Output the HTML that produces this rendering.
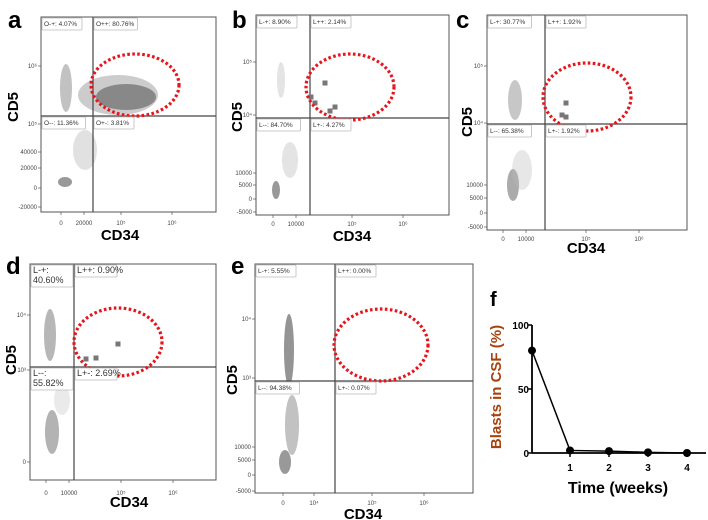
<!DOCTYPE html>
<html><head><meta charset="utf-8"><style>
html,body{margin:0;padding:0;background:#fff;}
svg{display:block;font-family:"Liberation Sans",sans-serif;}
.pl{font-weight:bold;font-size:24px;fill:#000;}
.ax{font-weight:bold;font-size:15px;fill:#000;}
.tk{font-size:6px;fill:#444;}
.gl{font-size:6.5px;fill:#333;}
</style></head><body>
<svg id="fig" width="708" height="520" viewBox="0 0 708 520">
<g id="panels"></g>
<g id="chartf"></g>
</svg>
<script>
// ---- Panel f data ----
const weeks = [0, 1, 2, 3, 4];
const blasts = [80, 2, 1.5, 0.5, 0];
const yTicks = [0, 50, 100];
const xTickLabels = ["1", "2", "3", "4"];
const xTickVals = [1, 2, 3, 4];

// ---- Flow panels (quadrant labels and marker points) ----
const panelIds = ["a","b","c","d","e"];
const quadLabels = {
  a:["O-+: 4.07%","O++: 80.76%","O--: 11.36%","O+-: 3.81%"],
  b:["L-+: 8.90%","L++: 2.14%","L--: 84.70%","L+-: 4.27%"],
  c:["L-+: 30.77%","L++: 1.92%","L--: 65.38%","L+-: 1.92%"],
  d:["L-+:|40.60%","L++: 0.90%","L--:|55.82%","L+-: 2.69%"],
  e:["L-+: 5.55%","L++: 0.00%","L--: 94.38%","L+-: 0.07%"]
};
const markerPts = {
  a:[],
  b:[[311,97],[315,103],[325,83],[330,111],[335,107]],
  c:[[566,103],[562,115],[566,117]],
  d:[[86,359],[96,358],[118,344]],
  e:[]
};

const NS="http://www.w3.org/2000/svg";
function mk(tag,attrs,parent){const e=document.createElementNS(NS,tag);for(const k in attrs)e.setAttribute(k,attrs[k]);parent.appendChild(e);return e;}
const panels=document.getElementById('panels');

const L = {
 a:{lab:[8,28],box:[41,17,216,212],v:93,h:116,cd5:[14,107],cd34:[120,240],ell:[135,85,44,31],
    yt:[["10⁶",66],["10⁵",124],["40000",152],["20000",168],["0",188],["-20000",207]],
    xt:[["0",61],["20000",84],["10⁵",121],["10⁶",172]],xty:222},
 b:{lab:[232,28],box:[256,15,449,215],v:310,h:118,cd5:[238,117],cd34:[352,241],ell:[350,87,44,33],
    yt:[["10⁵",62],["10⁴",115],["10000",173],["5000",185],["0",199],["-5000",212]],
    xt:[["0",273],["10000",296],["10⁵",352],["10⁶",403]],xty:223},
 c:{lab:[456,28],box:[487,15,687,230],v:545,h:124,cd5:[468,122],cd34:[586,253],ell:[587,97,44,34],
    yt:[["10⁵",66],["10⁴",123],["10000",185],["5000",198],["0",213],["-5000",227]],
    xt:[["0",503],["10000",526],["10⁵",586],["10⁶",639]],xty:238},
 d:{lab:[6,274],box:[30,264,216,480],v:74,h:367,cd5:[12,360],cd34:[129,507],ell:[118,342,44,34],
    yt:[["10⁴",315],["10³",370],["0",462]],
    xt:[["0",46],["10000",69],["10⁵",121],["10⁶",173]],xty:492},
 e:{lab:[231,274],box:[255,264,473,493],v:335,h:381,cd5:[233,380],cd34:[363,519],ell:[381,345,47,36],
    yt:[["10⁴",319],["10³",378],["10000",447],["5000",460],["0",475],["-5000",491]],
    xt:[["0",283],["10⁴",314],["10⁵",372],["10⁶",424]],xty:502}
};
const clouds = {
 a:[[126,97,30,13,"#777",1],[118,95,40,20,"#999",0.5],[66,88,6,24,"#999",0.6],[65,182,7,5,"#999",1],[85,150,12,20,"#aaa",0.35]],
 b:[[276,190,4,9,"#999",1],[290,160,8,18,"#bbb",0.4],[281,80,4,18,"#bbb",0.4]],
 c:[[515,100,7,20,"#999",0.55],[513,185,6,16,"#888",0.7],[522,170,10,20,"#bbb",0.35]],
 d:[[50,335,6,26,"#999",0.7],[52,432,7,22,"#999",0.75],[62,400,8,15,"#bbb",0.3]],
 e:[[289,350,5,36,"#888",0.9],[292,425,7,30,"#999",0.6],[285,462,6,12,"#999",1]]
};

panelIds.forEach(id=>{
  const p=L[id];
  const g=mk('g',{},panels);
  
  
  const [x1,y1,x2,y2]=p.box;
  clouds[id].forEach(c=>{mk('ellipse',{cx:c[0],cy:c[1],rx:c[2],ry:c[3],fill:c[4],opacity:c[5]},g);});
  mk('rect',{x:x1,y:y1,width:x2-x1,height:y2-y1,fill:'none',stroke:'#555','stroke-width':1},g);
  mk('line',{x1:p.v,y1:y1,x2:p.v,y2:y2,stroke:'#444','stroke-width':1.2},g);
  mk('line',{x1:x1,y1:p.h,x2:x2,y2:p.h,stroke:'#444','stroke-width':1.2},g);
  p.yt.forEach(t=>{mk('line',{x1:x1-3,y1:t[1],x2:x1,y2:t[1],stroke:'#555','stroke-width':0.7},g);
    const tx=mk('text',{x:x1-4,y:t[1]+2,'text-anchor':'end',class:'tk'},g);tx.textContent=t[0];});
  p.xt.forEach(t=>{mk('line',{x1:t[1],y1:y2,x2:t[1],y2:y2+3,stroke:'#555','stroke-width':0.7},g);
    const tx=mk('text',{x:t[1],y:p.xty+3,'text-anchor':'middle',class:'tk'},g);tx.textContent=t[0];});
  markerPts[id].forEach(m=>{const r=mk('rect',{x:m[0]-2.5,y:m[1]-2.5,width:5,height:5,fill:'#777'},g);
    
    });
  const e=p.ell;
  const el=mk('ellipse',{cx:e[0],cy:e[1],rx:e[2],ry:e[3],fill:'none',stroke:'#e8141c','stroke-width':3.2,'stroke-dasharray':'2.6 2.4'},g);
  
  
  const pos=[[x1+1,y1+1],[p.v+1,y1+1],[x1+1,p.h+1],[p.v+1,p.h+1]];
  quadLabels[id].forEach((s,i)=>{
    const parts=s.split('|');const w=(id==='d'?42:(Math.max(...parts.map(q=>q.length))*3.6+4));
    const h=parts.length*10+2;
    mk('rect',{x:pos[i][0],y:pos[i][1],width:w,height:h,fill:'#fff',stroke:'#bbb','stroke-width':0.8,rx:1},g);
    parts.forEach((q,j)=>{const t=mk('text',{x:pos[i][0]+2,y:pos[i][1]+8+j*10,class:'gl',style:id==='d'?'font-size:9px':''},g);t.textContent=q;
      
      });
  });
  const lb=mk('text',{x:p.lab[0],y:p.lab[1],class:'pl'},g);lb.textContent=id;
  
  
  const c5=mk('text',{x:p.cd5[0],y:p.cd5[1],class:'ax','text-anchor':'middle',transform:`rotate(-90 ${p.cd5[0]} ${p.cd5[1]})`,'dominant-baseline':'middle'},g);c5.textContent='CD5';
  
  
  const c34=mk('text',{x:p.cd34[0],y:p.cd34[1],class:'ax','text-anchor':'middle'},g);c34.textContent='CD34';
  
  
});

// ---- Panel f ----
const cf=document.getElementById('chartf');
const X0=532, XW=(687-570)/3, Y0=453, YH=128;
const xs=v=>X0+ (v===0?0:(570-X0)+(v-1)*XW);
const ys=v=>Y0-v/100*YH;
mk('line',{x1:X0,y1:ys(100),x2:X0,y2:Y0,stroke:'#000','stroke-width':1.8},cf);
mk('line',{x1:X0,y1:Y0,x2:706,y2:Y0,stroke:'#000','stroke-width':1.8},cf);
yTicks.forEach(v=>{mk('line',{x1:X0-4,y1:ys(v),x2:X0,y2:ys(v),stroke:'#000','stroke-width':1.5},cf);
  const t=mk('text',{x:X0-3,y:ys(v)+4,'text-anchor':'end',style:'font-size:10px;font-weight:bold'},cf);t.textContent=v;
  
  });
xTickVals.forEach((v,i)=>{mk('line',{x1:xs(v),y1:Y0,x2:xs(v),y2:Y0+4,stroke:'#000','stroke-width':1.5},cf);
  const t=mk('text',{x:xs(v),y:Y0+18,'text-anchor':'middle',style:'font-size:10px;font-weight:bold'},cf);t.textContent=xTickLabels[i];
  
  });
const line=mk('polyline',{points:weeks.map((w,i)=>xs(w)+','+ys(blasts[i])).join(' '),fill:'none',stroke:'#000','stroke-width':1.5},cf);


weeks.forEach((w,i)=>{const c=mk('circle',{cx:xs(w),cy:ys(blasts[i]),r:4,fill:'#000'},cf);
  
  });
const tf=mk('text',{x:618,y:493,'text-anchor':'middle',style:'font-size:16px;font-weight:bold'},cf);tf.textContent='Time (weeks)';


const ty=mk('text',{x:497,y:387,'text-anchor':'middle','dominant-baseline':'middle',transform:'rotate(-90 497 387)',style:'font-size:15px;font-weight:bold;fill:#a8430f'},cf);ty.textContent='Blasts in CSF (%)';


const fl=mk('text',{x:490,y:306,class:'pl',style:'font-size:20px'},cf);fl.textContent='f';


</script>
</body></html>
